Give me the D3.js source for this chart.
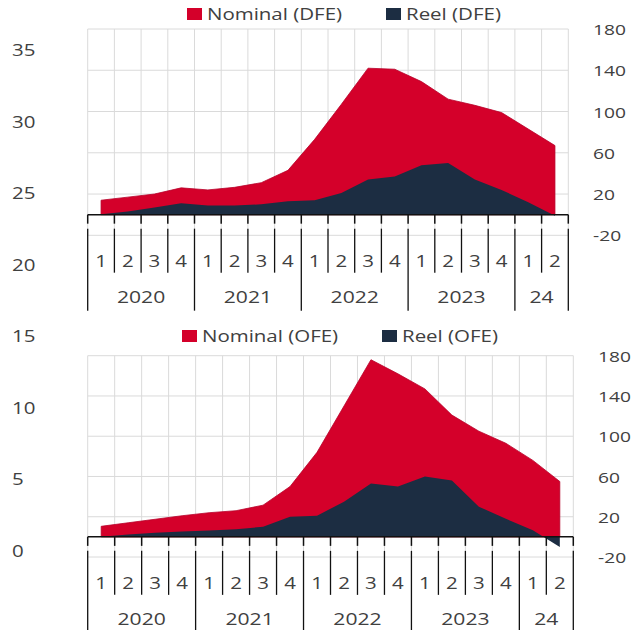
<!DOCTYPE html>
<html>
<head>
<meta charset="utf-8">
<script src="https://cdn.jsdelivr.net/npm/d3@7"></script>
<style>
	body { margin: 0; background: #fff; }
	text { font-family: "Open Sans", sans-serif; fill: #404040; }
</style>
</head>
<body>
<div id="wrapper"></div>
<script>
/////////////////////////////////////////////////
// data /////////////////////////////////////////
/////////////////////////////////////////////////

const quarterLabels = ["1", "2", "3", "4", "1", "2", "3", "4", "1", "2", "3", "4", "1", "2", "3", "4", "1", "2"];
const yearLabels = ["2020", "2021", "2022", "2023", "24"];
const yearQuarters = [4, 4, 4, 4, 2];

const nominalDFE = [14, 17, 20, 26, 24, 26.5, 31, 43, 73, 107, 142, 141, 129, 112, 106, 99, 83, 67];
const reelDFE = [0.5, 3, 7, 11, 9, 9, 10, 13, 14, 21, 34, 37, 48, 50, 34, 24, 12, -1];
const nominalOFE = [10.5, 14, 17.5, 21, 24, 26, 31.5, 50, 84, 130, 176, 162, 147, 121, 105, 93, 76, 55];
const reelOFE = [0, 2.3, 4, 5.3, 6.3, 7.6, 10, 20, 21, 35, 53, 50, 60, 56, 30, 18, 6.6, -10];

const rightTicks = [-20, 20, 60, 100, 140, 180];
const leftTicks = [0, 5, 10, 15, 20, 25, 30, 35];

const red = "#d4002a";
const navy = "#1c2d42";
const stretch = 1.28; // text in the picture is drawn wide

/////////////////////////////////////////////////
// svg //////////////////////////////////////////
/////////////////////////////////////////////////

const width = 638;
const height = 630;

const svg = d3.select("#wrapper").append("svg")
	.attr("width", width)
	.attr("height", height);

// put a text at x,y and widen it
const wide = (sel, x, y) => sel.attr("transform", `translate(${x},${y}) scale(${stretch},1)`);

// plain hyphen for negatives, like the picture
const fmt = (d) => String(d);

/////////////////////////////////////////////////
// left axis, spans both panels /////////////////
/////////////////////////////////////////////////

const leftScale = d3.scaleLinear().domain([0, 35]).range([549.5, 49]);
const leftAxis = svg.append("g")
	.attr("transform", "translate(12,0)")
	.call(d3.axisRight(leftScale).tickValues(leftTicks).tickFormat(fmt).tickSize(0).tickPadding(0));
leftAxis.select(".domain").remove();
leftAxis.selectAll("text")
	.attr("x", 0).attr("dy", null)
	.attr("dominant-baseline", "central")
	.attr("transform", `scale(${stretch},1)`)
	.style("font-size", "16px")
	.style("font-family", "'Open Sans', sans-serif")
	.attr("fill", "#404040");

/////////////////////////////////////////////////
// panel ////////////////////////////////////////
/////////////////////////////////////////////////

const drawPanel = (opts) => {
	const { nominal, reel, xRange, yRange, axisX, legendY, legend } = opts;
	const g = svg.append("g");

	const xScale = d3.scaleBand().domain(d3.range(nominal.length)).range(xRange);
	const yScale = d3.scaleLinear().domain([-20, 180]).range(yRange);
	const bw = xScale.bandwidth();
	const cx = (i) => xScale(i) + bw / 2;
	const y0 = yScale(0);
	const edges = d3.range(nominal.length + 1).map((i) => xRange[0] + i * bw);

	// grid
	g.selectAll(".hgrid").data(rightTicks).join("line")
		.attr("x1", xRange[0]).attr("x2", xRange[1])
		.attr("y1", (d) => yScale(d)).attr("y2", (d) => yScale(d))
		.attr("stroke", "#dadada").attr("stroke-width", 1);
	g.selectAll(".vgrid").data(edges).join("line")
		.attr("x1", (d) => d).attr("x2", (d) => d)
		.attr("y1", yScale(180)).attr("y2", yScale(-20))
		.attr("stroke", "#dadada").attr("stroke-width", 1);

	// areas
	const area = d3.area()
		.x((d, i) => cx(i))
		.y0(y0)
		.y1((d) => yScale(d));
	g.append("path").datum(nominal).attr("d", area).attr("fill", red)
		.attr("stroke", "#b8002a").attr("stroke-width", 0.8);
	g.append("path").datum(reel).attr("d", area).attr("fill", navy);

	// zero axis and ticks
	g.append("line")
		.attr("x1", xRange[0]).attr("x2", xRange[1])
		.attr("y1", y0).attr("y2", y0)
		.attr("stroke", "#111").attr("stroke-width", 1.5);
	g.selectAll(".tick0").data(edges).join("line")
		.attr("x1", (d) => d).attr("x2", (d) => d)
		.attr("y1", y0).attr("y2", y0 + 9)
		.attr("stroke", "#111").attr("stroke-width", 1.5);

	// category separators
	const yearEdges = [0];
	yearQuarters.forEach((n) => yearEdges.push(yearEdges[yearEdges.length - 1] + n));
	g.selectAll(".sep").data(d3.range(nominal.length + 1)).join("line")
		.attr("x1", (i) => edges[i]).attr("x2", (i) => edges[i])
		.attr("y1", y0 + 14)
		.attr("y2", (i) => (yearEdges.includes(i) ? y0 + 96 : y0 + 58))
		.attr("stroke", "#111").attr("stroke-width", 1.3);

	g.selectAll(".qlab").data(quarterLabels).join("text")
		.text((d) => d)
		.attr("text-anchor", "middle")
		.style("font-size", "16px")
		.each(function (d, i) { wide(d3.select(this), cx(i), y0 + 52); });

	g.selectAll(".ylab").data(yearLabels).join("text")
		.text((d) => d)
		.attr("text-anchor", "middle")
		.style("font-size", "16.5px")
		.each(function (d, i) {
			const mid = (edges[yearEdges[i]] + edges[yearEdges[i + 1]]) / 2;
			wide(d3.select(this), mid, y0 + 88);
		});

	// right axis
	const rAxis = g.append("g")
		.attr("transform", `translate(${axisX},0)`)
		.call(d3.axisRight(yScale).tickValues(rightTicks).tickFormat(fmt).tickSize(0).tickPadding(0));
	rAxis.select(".domain").remove();
	rAxis.selectAll("text")
		.attr("x", 0).attr("dy", null)
		.attr("dominant-baseline", "central")
		.attr("transform", `scale(${stretch},1)`)
		.style("font-size", "15px")
		.style("font-family", "'Open Sans', sans-serif")
		.attr("fill", "#404040");

	// legend
	const leg = g.selectAll(".leg").data(legend).join("g");
	leg.append("rect")
		.attr("x", (d) => d.x).attr("y", legendY - 12)
		.attr("width", 15).attr("height", 12)
		.attr("fill", (d) => d.color);
	leg.append("text")
		.text((d) => d.label)
		.style("font-size", "16px")
		.each(function (d) { wide(d3.select(this), d.x + 20, legendY); });
};

drawPanel({
	nominal: nominalDFE,
	reel: reelDFE,
	xRange: [87.7, 568.3],
	yRange: [235.3, 29],
	axisX: 593,
	legendY: 20,
	legend: [
		{ label: "Nominal (DFE)", color: red, x: 187 },
		{ label: "Reel (DFE)", color: navy, x: 386 }
	]
});

drawPanel({
	nominal: nominalOFE,
	reel: reelOFE,
	xRange: [87.7, 573.3],
	yRange: [557, 355.7],
	axisX: 598,
	legendY: 342,
	legend: [
		{ label: "Nominal (OFE)", color: red, x: 182 },
		{ label: "Reel (OFE)", color: navy, x: 382 }
	]
});
</script>
</body>
</html>
